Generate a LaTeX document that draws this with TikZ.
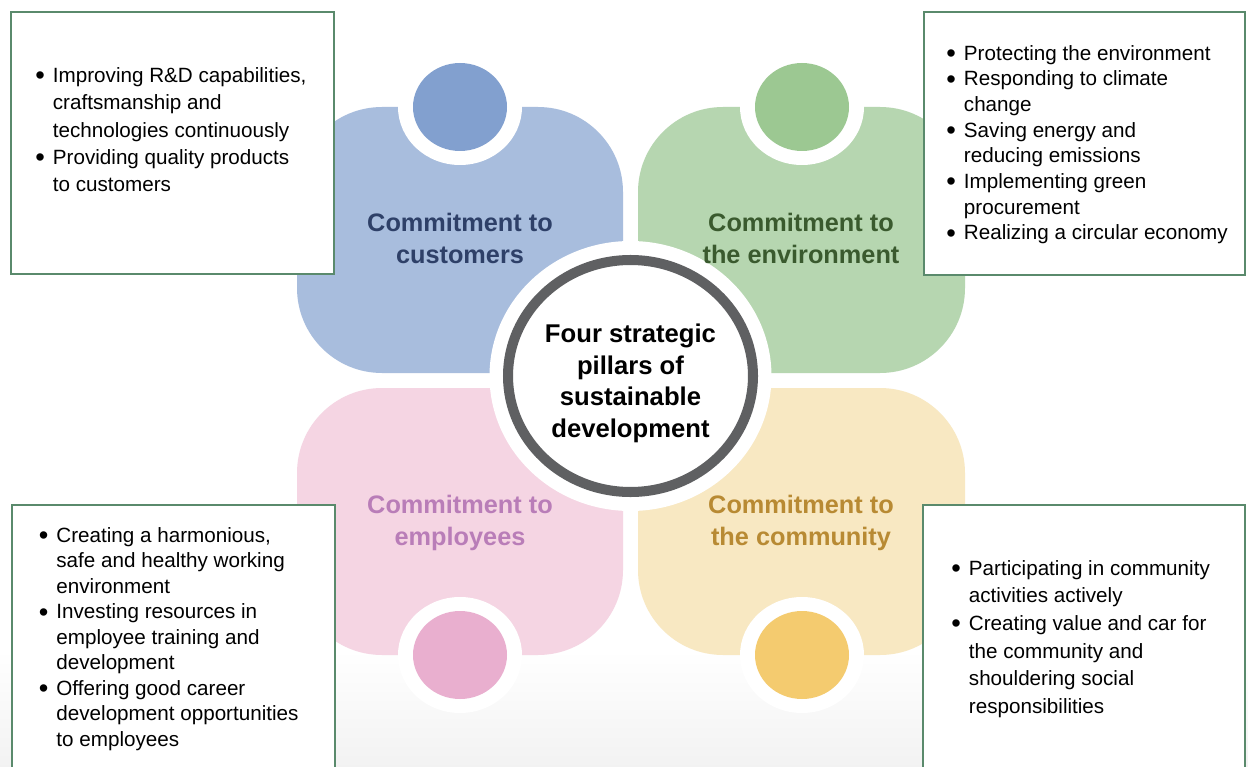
\documentclass[tikz,border=0pt]{standalone}
\usepackage{fontspec}
\setmainfont{Liberation Sans}

\definecolor{bluepc}{HTML}{A8BDDD}
\definecolor{bluedot}{HTML}{82A0CF}
\definecolor{bluetxt}{HTML}{2E4068}
\definecolor{greenpc}{HTML}{B6D6B0}
\definecolor{greendot}{HTML}{9CC892}
\definecolor{greentxt}{HTML}{3A5A2E}
\definecolor{pinkpc}{HTML}{F5D5E3}
\definecolor{pinkdot}{HTML}{E9AFCF}
\definecolor{pinktxt}{HTML}{B97DB8}
\definecolor{yellowpc}{HTML}{F8E8C2}
\definecolor{yellowdot}{HTML}{F4CB6F}
\definecolor{yellowtxt}{HTML}{B88A33}
\definecolor{hubgray}{HTML}{5F6062}
\definecolor{boxgreen}{HTML}{5A8A6C}

\newlength{\bw}\setlength{\bw}{10pt}
\newcommand{\itm}[1]{\makebox[\bw][l]{\raisebox{-1.3pt}{\fontsize{15.5}{0}\selectfont\textbullet}}#1}
\newcommand{\cnt}[1]{\hspace*{\bw}#1}

\tikzset{
  piece/.style={rounded corners=1.7cm},
  listbox/.style={draw=boxgreen, line width=1.2pt, fill=white},
  pillar/.style={align=center, inner sep=0pt, font=\bfseries\fontsize{14.4}{18.2}\selectfont},
  bullets/.style={anchor=north west, inner sep=0pt, align=left},
}

\begin{document}
\begin{tikzpicture}[x=0.02cm, y=-0.02cm]
  \def\dotrx{47}
  \def\dotry{44}
  \def\ringrx{62}
  \def\ringry{58}

  \clip (0,0) rectangle (1248,767);
  \fill[white] (0,0) rectangle (1248,767);
  \shade[top color=white, bottom color=black!5] (0,650) rectangle (1248,767);

  % the four pieces
  \fill[piece, bluepc] (297,107) rectangle (623,373);
  \fill[piece, greenpc] (638,107) rectangle (965,373);
  \fill[piece, pinkpc] (297,388) rectangle (623,655);
  \fill[piece, yellowpc] (638,388) rectangle (965,655);

  % white cut-outs
  \foreach \cx/\cy in {460/107, 802/107, 460/655, 802/655}
    \fill[white] (\cx,\cy) ellipse [x radius=\ringrx, y radius=\ringry];
  \fill[white] (630.5,376) ellipse [x radius=141, y radius=135];

  % dots
  \fill[bluedot] (460,107) ellipse [x radius=\dotrx, y radius=\dotry];
  \fill[greendot] (802,107) ellipse [x radius=\dotrx, y radius=\dotry];
  \fill[pinkdot] (460,655) ellipse [x radius=\dotrx, y radius=\dotry];
  \fill[yellowdot] (802,655) ellipse [x radius=\dotrx, y radius=\dotry];

  % hub
  \draw[line width=5.7pt, hubgray, fill=white] (630.5,376) ellipse [x radius=122.5, y radius=116];
  \node[pillar, text=black, font=\bfseries\fontsize{14.6}{18}\selectfont] (hub) at (630.5,383.5)
    {Four strategic\\pillars of\\sustainable\\development};

  \node[pillar, text=bluetxt] (tCust) at (460,238.4) {Commitment to\\customers};
  \node[pillar, text=greentxt] (tEnv) at (801,238.4) {Commitment to\\the environment};
  \node[pillar, text=pinktxt] (tEmp) at (460,522.6) {Commitment to\\employees};
  \node[pillar, text=yellowtxt] (tComm) at (801,522.6) {Commitment to\\the community};

  % boxes
  \draw[listbox] (11,12) rectangle (334,274);
  \draw[listbox] (924,12) rectangle (1245,275);
  \draw[listbox] (12,505) rectangle (335,790);
  \draw[listbox] (923,505) rectangle (1245,790);

  \node[bullets, font=\fontsize{11.75}{15.6}\selectfont] (lCust) at (35,61.3)
    {\rule{0pt}{1em}\itm{Improving R\&D capabilities,}\\
     \cnt{craftsmanship and}\\
     \cnt{technologies continuously}\\
     \itm{Providing quality products}\\
     \cnt{to customers}};
  \node[bullets, font=\fontsize{11.75}{14.6}\selectfont] (lEnv) at (946,39.3)
    {\rule{0pt}{1em}\itm{Protecting the environment}\\
     \itm{Responding to climate}\\
     \cnt{change}\\
     \itm{Saving energy and}\\
     \cnt{reducing emissions}\\
     \itm{Implementing green}\\
     \cnt{procurement}\\
     \itm{Realizing a circular economy}};
  \node[bullets, font=\fontsize{11.75}{14.5}\selectfont] (lEmp) at (38.5,521.3)
    {\rule{0pt}{1em}\itm{Creating a harmonious,}\\
     \cnt{safe and healthy working}\\
     \cnt{environment}\\
     \itm{Investing resources in}\\
     \cnt{employee training and}\\
     \cnt{development}\\
     \itm{Offering good career}\\
     \cnt{development opportunities}\\
     \cnt{to employees}};
  \node[bullets, font=\fontsize{11.75}{15.7}\selectfont] (lComm) at (951,554.3)
    {\rule{0pt}{1em}\itm{Participating in community}\\
     \cnt{activities actively}\\
     \itm{Creating value and car for}\\
     \cnt{the community and}\\
     \cnt{shouldering social}\\
     \cnt{responsibilities}};
\end{tikzpicture}
\end{document}
